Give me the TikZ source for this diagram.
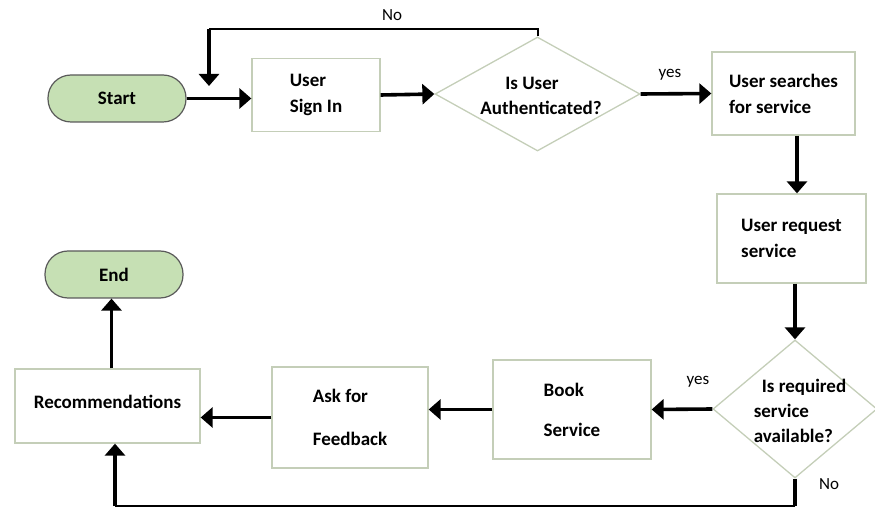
\documentclass[tikz,border=0pt]{standalone}
\usepackage{fontspec}
\setmainfont{Carlito}
\usetikzlibrary{shapes.geometric,arrows.meta}

\definecolor{boxline}{RGB}{196,206,184}
\definecolor{pillfill}{RGB}{198,224,180}
\definecolor{pillline}{RGB}{90,90,90}

\tikzset{
  stepbox/.style={draw=boxline, line width=1.3pt, rectangle, inner sep=0pt,
    align=left, font=\fontsize{19}{26}\selectfont\bfseries},
  terminal/.style={draw=pillline, fill=pillfill, line width=1.2pt, rectangle,
    rounded corners=23pt, minimum width=138pt, minimum height=47pt,
    font=\fontsize{19}{26}\selectfont\bfseries},
  decision/.style={draw=boxline, line width=1.3pt, diamond, inner sep=0pt},
  dtext/.style={align=center, inner sep=0pt, font=\fontsize{19}{25}\selectfont\bfseries},
  flow/.style={line width=3.6pt, -{Triangle[length=12pt,width=20pt]}},
  thinline/.style={line width=2pt},
  thickline/.style={line width=3.6pt},
  tag/.style={font=\fontsize{17}{18}\selectfont}
}

\begin{document}
\begin{tikzpicture}[x=1pt,y=-1pt]
  \useasboundingbox (0,0) rectangle (875,510);

  % nodes
  \node[terminal] (start) at (117,98.5) {Start};
  \node[stepbox, minimum width=128pt, minimum height=73pt] (signin) at (316,95) {User\\Sign In};
  \node[decision, minimum width=205pt, minimum height=114pt] (auth) at (537.5,94) {};
  \node[dtext] (authtext) at (541,96) {Is User\hspace*{18pt}\\Authenticated?};
  \node[stepbox, minimum width=143pt, minimum height=83pt] (search) at (783.5,93.5) {User searches\\for service};
  \node[stepbox, minimum width=149pt, minimum height=89pt] (request) at (791.5,238.5) {User request\\service};
  \node[decision, minimum width=164pt, minimum height=138pt] (avail) at (795,409) {};
  \node[dtext, align=left] (availtext) at (800,411) {\hspace*{8pt}Is required\\service\\available?};
  \node[stepbox, minimum width=158pt, minimum height=99pt,
    font=\fontsize{19}{40}\selectfont\bfseries] (book) at (572,409.5) {Book\\Service};
  \node[stepbox, minimum width=156pt, minimum height=101pt,
    font=\fontsize{19}{43}\selectfont\bfseries] (feedback) at (350,417.5) {Ask for\\Feedback};
  \node[stepbox, minimum width=185pt, minimum height=74pt] (recom) at (107.5,406) {\raisebox{8pt}{Recommendations}};
  \node[terminal] (end) at (114,274.5) {End};

  % labels
  \node[tag] (tagno1) at (392,15) {No};
  \node[tag] (tagyes1) at (670,75) {yes};
  \node[tag] (tagyes2) at (698,382) {yes};
  \node[tag] (tagno2) at (829,484) {No};

  % loop points
  \coordinate (noleft) at (209,29);
  \coordinate (nodrop) at (209,86);
  \coordinate (nobot) at (795,506);
  \coordinate (noback) at (115,506);

  % connectors
  \draw[flow] (start.east) -- (start.east -| signin.west);
  \draw[flow] (signin.east) -- (auth.west);
  \draw[flow] (auth.east) -- (search.west);
  \draw[flow] ([xshift=13.5pt]search.south) -- ([xshift=13.5pt]search.south |- request.north);
  \draw[flow] (request.south -| avail.north) -- (avail.north);
  \draw[flow] (avail.west) -- (book.east);
  \draw[flow] (book.west) -- (book.west -| feedback.east);
  \draw[flow] (feedback.west) -- (feedback.west -| recom.east);
  \draw[flow] ([xshift=4pt]recom.north) -- ([xshift=4pt]recom.north |- end.south);

  \draw[thinline] (auth.north) |- (noleft);
  \draw[flow] (noleft) -- (nodrop);
  \draw[thickline] (avail.south) -- (nobot);
  \draw[thinline] (nobot) -- (noback);
  \draw[flow] (noback) -- (noback |- recom.south);
\end{tikzpicture}
\end{document}
